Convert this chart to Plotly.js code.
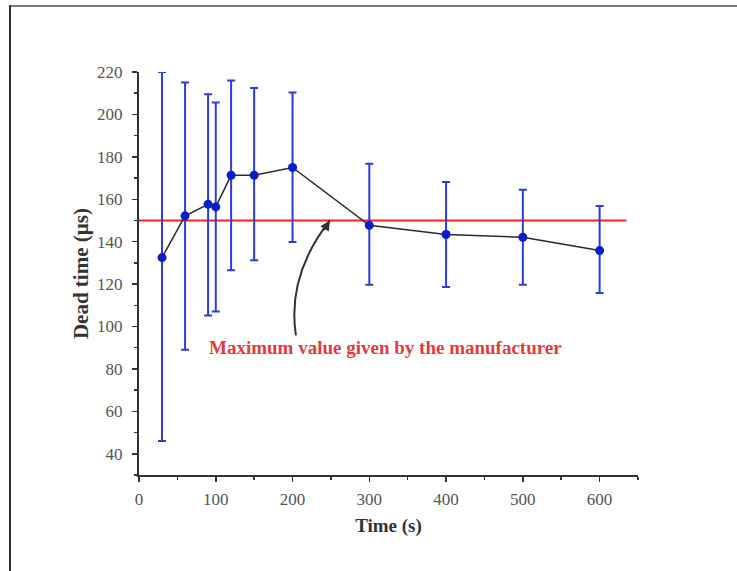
<!DOCTYPE html>
<html>
<head>
<meta charset="utf-8">
<script src="https://cdn.plot.ly/plotly-3.0.1.min.js"></script>
<style>
html,body{margin:0;padding:0;background:#fff;}
#wrap{position:relative;width:737px;height:571px;}
#chart{position:absolute;left:0;top:0;width:737px;height:571px;}
#frameTop{position:absolute;left:9px;top:5px;width:728px;height:0;border-top:2px solid #7a7a7a;}
#frameLeft{position:absolute;left:9px;top:5px;width:0;height:566px;border-left:2px solid #333;}
</style>
</head>
<body>
<div id="wrap">
<div id="chart"></div>
<div id="frameTop"></div>
<div id="frameLeft"></div>
</div>
<script>
// Time (s)
var timeS = [30, 60, 90, 100, 120, 150, 200, 300, 400, 500, 600];
// Dead time (µs)
var deadTime = [132.5, 152.2, 157.6, 156.4, 171.3, 171.3, 175.0, 147.7, 143.4, 142.1, 135.8];
// upper and lower error extents
var errPlus  = [87.5, 62.8, 51.9, 49.2, 44.7, 41.2, 35.3, 29.1, 24.7, 22.4, 21.0];
var errMinus = [86.5, 63.2, 52.4, 49.3, 44.8, 40.1, 35.2, 28.0, 24.8, 22.4, 20.0];
// manufacturer maximum
var maxValue = 150;
var maxLineX = [0, 635];
var annText = "Maximum value given by the manufacturer";

var serif = "Liberation Serif, Times New Roman, serif";

var traces = [
  {
    x: maxLineX, y: [maxValue, maxValue],
    mode: "lines", line: {color: "#ff2020", width: 2},
    hoverinfo: "skip", showlegend: false
  },
  {
    x: timeS, y: deadTime,
    mode: "lines+markers",
    line: {color: "#2a2a2a", width: 1.5},
    marker: {color: "#0a1ec8", size: 9},
    error_y: {type: "data", symmetric: false, array: errPlus, arrayminus: errMinus,
              color: "#2b3fd8", thickness: 2, width: 4},
    showlegend: false
  }
];

var layout = {
  width: 737, height: 571,
  margin: {l: 139, r: 99, t: 72, b: 96},
  paper_bgcolor: "#fff", plot_bgcolor: "#fff",
  showlegend: false,
  xaxis: {
    range: [0, 650], tickvals: [0,100,200,300,400,500,600],
    ticks: "outside", ticklen: 5, tickwidth: 1.5, tickcolor: "#333",
    ticklabelstandoff: 3,
    minor: {dtick: 50, tick0: 0, ticks: "outside", ticklen: 3, tickcolor: "#333", showgrid: false},
    showgrid: false, zeroline: false, showline: true, linecolor: "#333", linewidth: 2,
    tickfont: {family: serif, size: 17, color: "#555"},
    title: {text: "<b>Time (s)</b>", font: {family: serif, size: 19, color: "#333"}, standoff: 10}
  },
  yaxis: {
    range: [30, 220], tickvals: [40,60,80,100,120,140,160,180,200,220],
    ticks: "outside", ticklen: 5, tickwidth: 1.5, tickcolor: "#333",
    ticklabelstandoff: 6,
    minor: {dtick: 10, tick0: 0, ticks: "outside", ticklen: 3, tickcolor: "#333", showgrid: false},
    showgrid: false, zeroline: false, showline: true, linecolor: "#333", linewidth: 2,
    tickfont: {family: serif, size: 17, color: "#555"},
    title: {text: "<b>Dead time (µs)</b>", font: {family: serif, size: 21, color: "#333"}, standoff: 3}
  },
  shapes: [
    {type: "path", xref: "x", yref: "y",
     path: "M 204.4 95.8 Q 192.4 124 248.7 150",
     line: {color: "#333", width: 2}}
  ],
  annotations: [
    {x: 248.7, y: 150, xref: "x", yref: "y", text: "", showarrow: true,
     arrowhead: 2, arrowsize: 1, arrowwidth: 2, arrowcolor: "#333",
     ax: -7, ay: 11},
    {x: 320.5, y: 90.3, xref: "x", yref: "y", text: "<b>" + annText + "</b>", showarrow: false,
     font: {family: serif, size: 19, color: "#e8393a"}}
  ]
};

Plotly.newPlot("chart", traces, layout, {displayModeBar: false, staticPlot: true});
</script>
</body>
</html>
